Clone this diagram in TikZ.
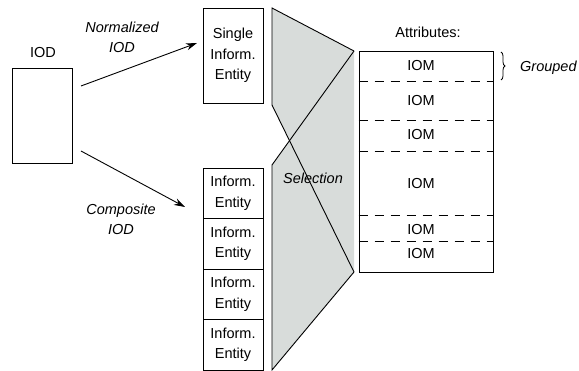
\documentclass[tikz,border=0pt]{standalone}
\usepackage{fontspec}
\setmainfont{Liberation Sans}
\usetikzlibrary{arrows.meta,decorations.pathreplacing}
\definecolor{selgray}{RGB}{216,220,218}
\begin{document}
\begin{tikzpicture}[x=1pt,y=-1pt,
  every node/.style={font=\fontsize{14.5}{20.5}\selectfont},
  frame/.style={draw=black,line width=0.9pt},
  boxnode/.style={frame,inner sep=0pt,align=center,minimum width=60pt},
  label/.style={inner sep=0pt,align=center},
  slanted/.style={label,font=\fontsize{14.5}{20}\selectfont\itshape},
  pointer/.style={line width=0.9pt,-{Stealth[length=11pt,width=7pt]}},
  divider/.style={line width=0.9pt,dash pattern=on 9pt off 7pt}]
\useasboundingbox (0,0) rectangle (579,371);

% source object definition
\node[boxnode,minimum width=60pt,minimum height=95pt] (iod) at (42,115.5) {};
\node[label] (iodlabel) at (43,53) {IOD};

% information entities
\node[boxnode,minimum height=95pt] (single) at (233,55.5) {Single\\Inform.\\Entity};
\node[boxnode,minimum height=50.5pt] (ie1) at (233,193.25) {Inform.\\Entity};
\node[boxnode,minimum height=50.5pt] (ie2) at (233,243.75) {Inform.\\Entity};
\node[boxnode,minimum height=50.5pt] (ie3) at (233,294.25) {Inform.\\Entity};
\node[boxnode,minimum height=50.5pt] (ie4) at (233,344.75) {Inform.\\Entity};

% arrows from the IOD
\coordinate (nstart) at (81,86);
\coordinate (nend) at (197,43);
\coordinate (cstart) at (81,151);
\coordinate (cend) at (185,207);
\draw[pointer] (nstart) -- (nend);
\draw[pointer] (cstart) -- (cend);
\node[slanted] (normlabel) at (122,37) {Normalized\\IOD};
\node[slanted] (complabel) at (121,219) {Composite\\IOD};

% selection funnel
\coordinate (tl) at (272,8);
\coordinate (tr) at (354,51);
\coordinate (br) at (354,272);
\coordinate (bl) at (272,370);
\coordinate (ua) at (272,105);
\coordinate (la) at (272,165);
\coordinate (cross) at (289.5,140.7);
\fill[selgray] (tl) -- (tr) -- (br) -- (bl) -- (la) -- (cross) -- (ua) -- cycle;
\draw[line width=0.9pt] (ua) -- (tl) -- (tr);
\draw[line width=0.9pt] (la) -- (bl) -- (br);
\draw[line width=0.9pt] (ua) -- (br);
\draw[line width=0.9pt] (la) -- (tr);
\node[slanted] (sellabel) at (313,178) {Selection};

% attributes column
\node[label] (attrlabel) at (428,32) {Attributes:};
\node[frame,inner sep=0pt,minimum width=134pt,minimum height=221pt] (attrs) at (426,161.5) {};
\foreach \y in {81,120,151,215,241}
  \draw[divider] (attrs.west |- 0,\y) -- (attrs.east |- 0,\y);
\foreach \y/\n in {66/a,101/b,135/c,184/d,230/e,254/f}
  \node[label] (iom\n) at (421,\y) {IOM};

% grouping brace
\coordinate (bracetop) at (501,52);
\coordinate (bracebot) at (501,80);
\draw[line width=0.8pt,decorate,decoration={brace,amplitude=4pt}] (bracetop) -- (bracebot);
\node[slanted,anchor=west] (grouped) at (520,68) {Grouped};
\end{tikzpicture}
\end{document}
